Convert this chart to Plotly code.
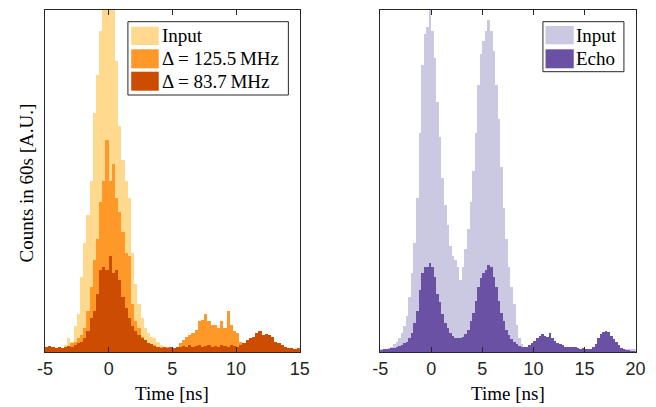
import plotly.graph_objects as go

# ---------------- data ----------------
BIN_WIDTH = 0.25
LEFT_START = -5.0
RIGHT_START = -5.0

left_input = [1.2, 1.0, 1.4, 1.1, 1.5, 1.3, 2.0, 4.0, 3.0, 7.5,
              11, 22, 32, 40, 50, 70, 81, 94, 103, 103,
              103, 102, 85, 66, 56, 50, 45, 29, 20, 14,
              10, 7, 5.5, 4.5, 4, 3, 2, 1.5, 1.2, 1.0,
              0.8, 0.9, 0.8, 0.9, 0.8, 0.8, 0.9, 0.8, 0.8, 0.9,
              0.8, 0.8, 0.9, 0.8, 0.8, 0.9, 0.8, 0.8, 0.9, 0.8,
              0.8, 0.9, 0.8, 0.8, 0.9, 0.8, 0.8, 0.9, 0.8, 0.8,
              0.9, 0.8, 0.8, 0.9, 0.8, 0.8, 0.9, 0.8, 0.8, 0.9]

left_d1255 = [1.5, 1.2, 1.5, 1.3, 1.5, 1.2, 1.6, 1.8, 2.5, 3,
              4, 5, 7, 12, 19, 27, 33, 44, 50, 62,
              50, 55, 45, 41, 35, 29, 28, 14, 9, 7,
              4.5, 3.5, 2.5, 2, 2, 1.5, 1.5, 1.2, 1.5, 1.2,
              1.3, 1.5, 2.5, 3.5, 4.5, 5, 5.5, 6.5, 9, 9.5,
              11, 9, 8, 8, 7, 9, 7, 12, 8, 6,
              5.5, 3, 2, 1.5, 1.6, 1.5, 1.4, 1.5, 1.6, 1.5,
              1.4, 1.5, 1.3, 1.4, 1.2, 1.3, 1.1, 1.2, 1.0, 1.1]

left_d837 = [1.5, 1.8, 1.5, 1.2, 1.5, 1.3, 1.5, 1.8, 1.6, 2,
             2.5, 3, 4, 6, 10, 12, 17, 24, 25, 24,
             28, 23, 24, 21, 16, 13, 10, 7.5, 6, 5,
             4, 3.5, 2.5, 2.2, 1.8, 1.5, 1.2, 1.5, 1.3, 1.5,
             1.2, 1.4, 1.6, 1.8, 1.5, 2, 1.6, 1.8, 2, 1.5,
             1.8, 2, 1.6, 1.8, 1.5, 2, 1.8, 1.5, 2, 1.8,
             1.6, 2, 2.5, 3.5, 4.2, 4.5, 5.5, 6.2, 5, 5.2,
             5, 4.3, 3, 2.7, 2, 1.5, 1.2, 1.3, 1.0, 1.2]

right_input = [0.8, 0.9, 1.0, 1.2, 1.6, 2.2, 3.0, 4.0, 5.5, 7.5,
               10.5, 16, 23, 32, 45, 64, 84, 93, 95, 101,
               94, 86, 73, 63, 51, 43, 37, 31, 28, 27,
               25, 21, 25, 30, 36, 44, 53, 64, 78, 87,
               91, 94, 97, 94, 88, 78, 68, 54, 42, 33,
               25, 19, 14, 8, 4, 2.2, 1.5, 0.8, 0.8, 0.8,
               0.8, 0.8, 0.8, 0.8, 0.8, 0.8, 0.8, 0.8, 0.8, 0.8,
               0.8, 0.8, 0.8, 0.8, 0.8, 0.8, 0.8, 0.8, 0.8, 0.8,
               0.8, 0.8, 0.8, 0.8, 0.8, 0.8, 0.8, 0.8, 0.8, 0.8,
               0.8, 0.8, 0.8, 0.8, 0.8, 0.8, 0.8, 0.8, 0.8, 0.8]

right_echo = [0.6, 0.8, 0.9, 1.0, 1.2, 1.3, 1.5, 1.7, 2.0, 2.5,
              3.0, 4.2, 5.5, 8.5, 12, 18, 23, 25, 25, 26,
              25, 22, 17, 14.5, 11, 8.5, 7, 5.5, 4.6, 4.2,
              4.0, 4.0, 4.3, 5.2, 6.5, 9, 11.5, 15, 19, 21.5,
              23, 24, 25.5, 25, 22, 19, 15, 11.5, 9, 6.5,
              5, 3.8, 2.8, 2.3, 1.8, 1.5, 1.4, 1.6, 2.0, 2.5,
              3.2, 4.0, 4.8, 5.3, 4.8, 4.5, 5.6, 4.2, 3.2, 2.6,
              2.3, 2.0, 1.6, 1.5, 1.4, 1.6, 1.4, 1.3, 1.0, 1.1,
              1.0, 0.9, 1.0, 1.5, 2.4, 4.2, 5.4, 5.8, 6.0, 5.9,
              4.8, 3.8, 2.8, 2.0, 1.3, 0.9, 0.6, 0.5, 0.4, 0.4]

left_tickvals = [-5, 0, 5, 10, 15]
left_ticktext = ["-5", "0", "5", "10", "15"]
right_tickvals = [-5, 0, 5, 10, 15, 20]
right_ticktext = ["-5", "0", "5", "10", "15", "20"]

left_names = ["Input", "Δ = 125.5\u2009MHz", "Δ = 83.7\u2009MHz"]
right_names = ["Input", "Echo"]

# ---------------- style ----------------
C_IN_L = "#FED98E"
C_MED = "#FE9929"
C_DARK = "#CC4C02"
C_IN_R = "#CBC9E2"
C_ECHO = "#6A51A3"
AX = "#262626"
W, H = 656, 407


def centers(start, n):
    return [start + BIN_WIDTH * (i + 0.5) for i in range(n)]


def px(x):
    return x / W


def py(y):
    return 1 - y / H


fig = go.Figure()
for vals, col, nm in [(left_input, C_IN_L, left_names[0]),
                      (left_d1255, C_MED, left_names[1]),
                      (left_d837, C_DARK, left_names[2])]:
    fig.add_trace(go.Bar(x=centers(LEFT_START, len(vals)), y=vals, width=BIN_WIDTH,
                         marker=dict(color=col, line=dict(width=0)), name=nm,
                         xaxis="x", yaxis="y", showlegend=False, hoverinfo="skip"))
for vals, col, nm in [(right_input, C_IN_R, right_names[0]),
                      (right_echo, C_ECHO, right_names[1])]:
    fig.add_trace(go.Bar(x=centers(RIGHT_START, len(vals)), y=vals, width=BIN_WIDTH,
                         marker=dict(color=col, line=dict(width=0)), name=nm,
                         xaxis="x2", yaxis="y2", showlegend=False, hoverinfo="skip"))

ydom = [py(352), py(10)]
xcommon = dict(ticks="inside", ticklen=5, tickwidth=1, tickcolor=AX, showline=True,
               linecolor=AX, linewidth=1, mirror="ticks", showgrid=False, zeroline=False,
               tickfont=dict(family="Liberation Sans", size=18, color=AX))
ycommon = dict(range=[0, 100], showticklabels=False, ticks="", showline=True,
               linecolor=AX, linewidth=1, mirror=True, showgrid=False, zeroline=False,
               domain=ydom)

fig.update_layout(
    width=W, height=H, margin=dict(l=0, r=0, t=0, b=0),
    paper_bgcolor="white", plot_bgcolor="white",
    barmode="overlay", bargap=0,
    xaxis=dict(domain=[px(38), px(300)], range=[-5, 15], tickmode="array",
               tickvals=left_tickvals, ticktext=left_ticktext, anchor="y", **xcommon),
    yaxis=dict(anchor="x", **ycommon),
    xaxis2=dict(domain=[px(382.7), px(645.3)], range=[-5, 20], tickmode="array",
                tickvals=right_tickvals, ticktext=right_ticktext, anchor="y2", **xcommon),
    yaxis2=dict(anchor="x2", **ycommon),
)

serif = dict(family="Liberation Serif", size=19, color="black")
shapes = []
annotations = []

# legends drawn as boxes + swatches + text
def legend(box, sw_x, rows, names, colors, text_x):
    shapes.append(dict(type="rect", xref="paper", yref="paper",
                       x0=px(box[0]), x1=px(box[1]), y0=py(box[3]), y1=py(box[2]),
                       line=dict(color=AX, width=1), fillcolor="white", layer="above"))
    for (r0, r1), nm, col in zip(rows, names, colors):
        shapes.append(dict(type="rect", xref="paper", yref="paper",
                           x0=px(sw_x[0]), x1=px(sw_x[1]), y0=py(r1), y1=py(r0),
                           line=dict(width=0), fillcolor=col, layer="above"))
        annotations.append(dict(text=nm, xref="paper", yref="paper", x=px(text_x),
                                y=py((r0 + r1) / 2), xanchor="left", yanchor="middle",
                                showarrow=False, font=serif))

legend((123.3, 288.3, 21.7, 95), (126.7, 155), [(26.7, 45), (49.3, 68.3), (71.7, 90.7)],
       left_names, [C_IN_L, C_MED, C_DARK], 156)
legend((550, 633.3, 21.7, 71.7), (552.7, 581.7), [(26, 44.3), (49.3, 68.3)],
       right_names, [C_IN_R, C_ECHO], 582)

annotations.append(dict(text="Time [ns]", xref="paper", yref="paper", x=px(169), y=py(393),
                        xanchor="center", yanchor="middle", showarrow=False, font=serif))
annotations.append(dict(text="Time [ns]", xref="paper", yref="paper", x=px(514), y=py(393),
                        xanchor="center", yanchor="middle", showarrow=False, font=serif))
annotations.append(dict(text="Counts in 60s [A.U.]", xref="paper", yref="paper", x=px(18),
                        y=py(183), xanchor="center", yanchor="middle", textangle=-90,
                        showarrow=False, font=serif))

fig.update_layout(shapes=shapes, annotations=annotations, hovermode=False)
fig.write_html("out.html", config={"displayModeBar": False, "staticPlot": True},
               post_script="document.body.style.margin='0px';document.body.style.overflow='hidden';")
